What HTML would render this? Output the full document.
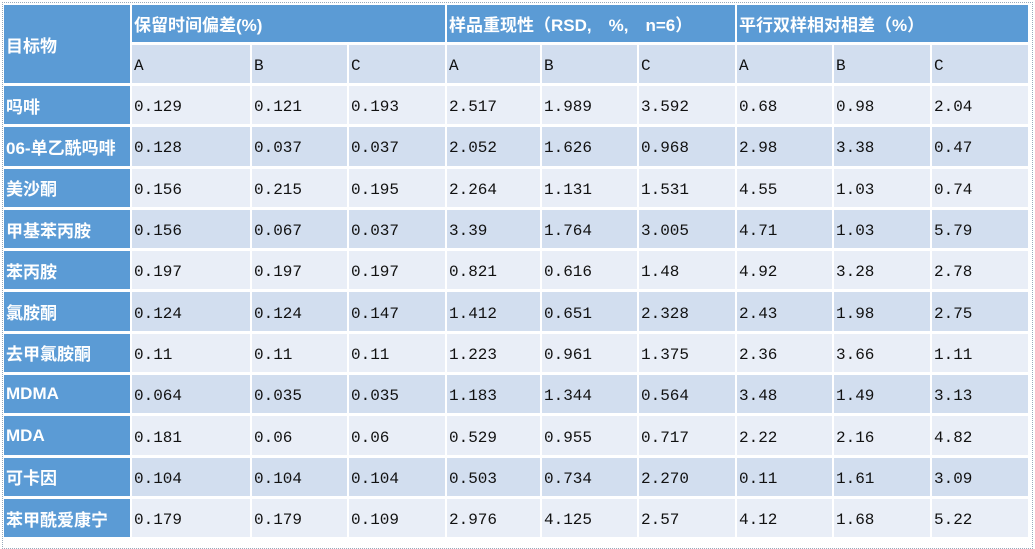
<!DOCTYPE html>
<html><head><meta charset="utf-8">
<style>
body{margin:0;width:1035px;height:539px;background:#fff;overflow:hidden;position:relative}
.frame{position:absolute;left:2px;top:2px;width:1029px;height:545px;border:1px dotted #9ab}
table{position:absolute;left:2px;top:2px;border-collapse:separate;border-spacing:2px 3px;table-layout:fixed}
td{padding:4px 0 0 2px;box-sizing:border-box;vertical-align:middle;white-space:nowrap;overflow:hidden;font-family:"Liberation Mono","Noto Serif CJK SC",monospace;font-size:16px;color:#111}
td.h{background:#5B9BD5;color:#fff;font-family:"Liberation Sans","Noto Sans CJK SC",sans-serif;font-size:17px;font-weight:bold;padding-top:0}
tr.s td{background:#D2DEEF}
tr.o td{background:#E9EEF7}
tr.e td{background:#D2DEEF}
tr.o td.h,tr.e td.h,tr.s td.h{background:#5B9BD5}
tr.t td{height:37px}
tr.s td{height:38px}
tr.o td,tr.e td{height:38.3px}
</style></head><body>
<div class="frame"></div>
<table>
<colgroup><col style="width:126px"><col style="width:118px"><col style="width:95px"><col style="width:96px"><col style="width:93px"><col style="width:95px"><col style="width:96px"><col style="width:95px"><col style="width:96px"><col style="width:96px"></colgroup>
<tr class="t"><td class="h" rowspan="2">目标物</td><td class="h" colspan="3">保留时间偏差(%)</td><td class="h" colspan="3">样品重现性（RSD,　%,　n=6）</td><td class="h" colspan="3">平行双样相对相差（%）</td></tr>
<tr class="s"><td>A</td><td>B</td><td>C</td><td>A</td><td>B</td><td>C</td><td>A</td><td>B</td><td>C</td></tr>
<tr class="o"><td class="h">吗啡</td><td>0.129</td><td>0.121</td><td>0.193</td><td>2.517</td><td>1.989</td><td>3.592</td><td>0.68</td><td>0.98</td><td>2.04</td></tr>
<tr class="e"><td class="h">06-单乙酰吗啡</td><td>0.128</td><td>0.037</td><td>0.037</td><td>2.052</td><td>1.626</td><td>0.968</td><td>2.98</td><td>3.38</td><td>0.47</td></tr>
<tr class="o"><td class="h">美沙酮</td><td>0.156</td><td>0.215</td><td>0.195</td><td>2.264</td><td>1.131</td><td>1.531</td><td>4.55</td><td>1.03</td><td>0.74</td></tr>
<tr class="e"><td class="h">甲基苯丙胺</td><td>0.156</td><td>0.067</td><td>0.037</td><td>3.39</td><td>1.764</td><td>3.005</td><td>4.71</td><td>1.03</td><td>5.79</td></tr>
<tr class="o"><td class="h">苯丙胺</td><td>0.197</td><td>0.197</td><td>0.197</td><td>0.821</td><td>0.616</td><td>1.48</td><td>4.92</td><td>3.28</td><td>2.78</td></tr>
<tr class="e"><td class="h">氯胺酮</td><td>0.124</td><td>0.124</td><td>0.147</td><td>1.412</td><td>0.651</td><td>2.328</td><td>2.43</td><td>1.98</td><td>2.75</td></tr>
<tr class="o"><td class="h">去甲氯胺酮</td><td>0.11</td><td>0.11</td><td>0.11</td><td>1.223</td><td>0.961</td><td>1.375</td><td>2.36</td><td>3.66</td><td>1.11</td></tr>
<tr class="e"><td class="h">MDMA</td><td>0.064</td><td>0.035</td><td>0.035</td><td>1.183</td><td>1.344</td><td>0.564</td><td>3.48</td><td>1.49</td><td>3.13</td></tr>
<tr class="o"><td class="h">MDA</td><td>0.181</td><td>0.06</td><td>0.06</td><td>0.529</td><td>0.955</td><td>0.717</td><td>2.22</td><td>2.16</td><td>4.82</td></tr>
<tr class="e"><td class="h">可卡因</td><td>0.104</td><td>0.104</td><td>0.104</td><td>0.503</td><td>0.734</td><td>2.270</td><td>0.11</td><td>1.61</td><td>3.09</td></tr>
<tr class="o"><td class="h">苯甲酰爱康宁</td><td>0.179</td><td>0.179</td><td>0.109</td><td>2.976</td><td>4.125</td><td>2.57</td><td>4.12</td><td>1.68</td><td>5.22</td></tr>
</table>
</body></html>
